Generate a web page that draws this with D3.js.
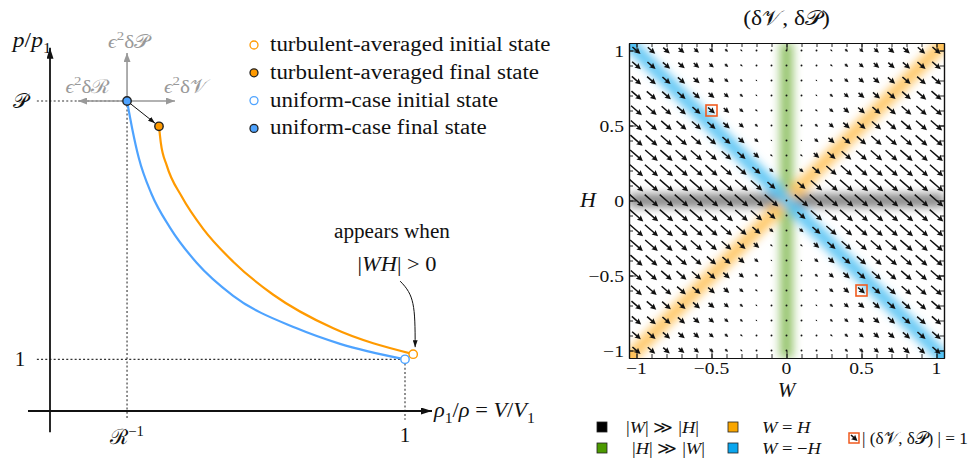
<!DOCTYPE html>
<html>
<head>
<meta charset="utf-8">
<script src="https://cdn.jsdelivr.net/npm/d3@7"></script>
<style>
	body { margin: 0; background: #fff; }
	svg { display: block; font-family: "Liberation Serif", "DejaVu Serif", serif; }
</style>
</head>
<body>
<div id="chart"></div>
<script>
// left panel: p/p1 against rho1/rho
const R_INV = 0.217
const P_LEVEL = 6
const uniformCurve = [[0.217, 6], [0.232, 5.45], [0.25, 4.9], [0.286, 4.2], [0.338, 3.55], [0.413, 2.87], [0.516, 2.23], [0.695, 1.6], [0.817, 1.3], [1, 1]]
const turbulentCurve = [[0.307, 5.51], [0.312, 5.2], [0.329, 4.75], [0.371, 4.15], [0.432, 3.52], [0.516, 2.89], [0.629, 2.25], [0.798, 1.6], [1.023, 1.1]]
const stateNames = ["turbulent-averaged initial state", "turbulent-averaged final state", "uniform-case initial state", "uniform-case final state"]
const stateValues = [[1.023, 1.1], [0.307, 5.51], [1, 1], [0.217, 6]]

// right panel: quiver of (dV, dP) over (W, H)
const gridValues = [-1, -0.9, -0.8, -0.7, -0.6, -0.5, -0.4, -0.3, -0.2, -0.1, 0, 0.1, 0.2, 0.3, 0.4, 0.5, 0.6, 0.7, 0.8, 0.9, 1]
const axisTicks = [-1, -0.5, 0, 0.5, 1]
const fieldDirection = [1, -0.87]
// arrow magnitude read per |H| row (0..1) and |W| column (0..1); field is mirror symmetric
const magnitude = [
	[0, 1, 1, 1, 1, 1, 1, 1, 1, 1, 1],
	[0, 0.6, 0.84, 0.93, 0.96, 0.97, 0.99, 0.99, 0.99, 0.99, 1],
	[0, 0.3, 0.6, 0.76, 0.84, 0.9, 0.93, 0.94, 0.96, 0.97, 0.97],
	[0, 0.18, 0.41, 0.6, 0.72, 0.8, 0.84, 0.88, 0.91, 0.93, 0.94],
	[0, 0.12, 0.3, 0.46, 0.6, 0.69, 0.76, 0.81, 0.84, 0.87, 0.9],
	[0, 0.09, 0.23, 0.36, 0.49, 0.6, 0.68, 0.73, 0.78, 0.81, 0.84],
	[0, 0.06, 0.18, 0.3, 0.41, 0.51, 0.6, 0.66, 0.72, 0.76, 0.8],
	[0, 0.05, 0.14, 0.24, 0.35, 0.44, 0.52, 0.6, 0.65, 0.7, 0.74],
	[0, 0.04, 0.12, 0.21, 0.3, 0.39, 0.46, 0.54, 0.6, 0.65, 0.69],
	[0, 0.04, 0.1, 0.18, 0.26, 0.34, 0.41, 0.48, 0.54, 0.6, 0.64],
	[0, 0.03, 0.09, 0.16, 0.23, 0.3, 0.36, 0.43, 0.49, 0.55, 0.6],
]
const referencePoints = [[-0.5, 0.6], [0.5, -0.6]]
const bandLines = {
	wide: [[-1.05, 0], [1.05, 0]],
	tall: [[0, -1.05], [0, 1.05]],
	equal: [[-1.05, -1.05], [1.05, 1.05]],
	opposite: [[-1.05, 1.05], [1.05, -1.05]],
}

const ORANGE = "#ff9a00"
const BLUE = "#4ea3ff"
const bandColors = { wide: "#7a7a7a", tall: "#8cbf60", equal: "#ffc35c", opposite: "#55c2f3" }
const legendColors = { wide: "#000", tall: "#4c9a00", equal: "#f9a600", opposite: "#0aa6ee" }
const REF_COLOR = "#f05a1e"
// Computer Modern runs wider than the serif we have, so text is stretched a bit
const WIDEN = 1.12

const svg = d3.select("#chart").append("svg").attr("width", 972).attr("height", 458)
const defs = svg.append("defs")

function addMarker(id, color, len, wid) {
	defs.append("marker")
		.attr("id", id)
		.attr("viewBox", `0 0 ${len} ${wid}`)
		.attr("refX", len)
		.attr("refY", wid / 2)
		.attr("markerWidth", len)
		.attr("markerHeight", wid)
		.attr("markerUnits", "userSpaceOnUse")
		.attr("orient", "auto")
		.append("path")
		.attr("d", `M0,0L${len},${wid / 2}L0,${wid}Z`)
		.attr("fill", color)
}
addMarker("head-axis", "#111", 11, 7)
addMarker("head-gray", "#999", 9, 7)
addMarker("head-black", "#111", 7, 5)

function widen(t, k = WIDEN) {
	const w = t.node().getComputedTextLength()
	t.attr("textLength", w * k).attr("lengthAdjust", "spacingAndGlyphs")
	return t
}

// small helper for math-like labels: parts are [text, kind]
function mathText(sel, x, y, parts, size, anchor = "start", color = "#111") {
	const t = sel.append("text")
		.attr("x", x)
		.attr("y", y)
		.attr("font-size", size)
		.attr("fill", color)
		.attr("text-anchor", anchor)
	let shift = 0
	parts.forEach(([s, kind]) => {
		const target = kind === "sub" ? size * 0.28 : kind === "sup" ? -size * 0.4 : 0
		const span = t.append("tspan").text(s).attr("dy", target - shift)
		shift = target
		if (kind === "it") span.attr("font-style", "italic")
		if (kind === "sub" || kind === "sup") span.attr("font-size", size * 0.7)
	})
	return t
}

// ---------- left panel ----------
const xL = d3.scaleLinear().domain([0, 1]).range([50, 405])
const yL = d3.scaleLinear().domain([0, P_LEVEL]).range([411, 101])
const left = svg.append("g")

// dotted guides
const guides = [
	[[-0.037, P_LEVEL], [R_INV, P_LEVEL]],
	[[-0.037, 1], [1, 1]],
	[[R_INV, P_LEVEL], [R_INV, -0.17]],
	[[1, 1], [1, -0.17]],
]
guides.forEach(([a, b]) => {
	left.append("line")
		.attr("x1", xL(a[0])).attr("y1", yL(a[1]))
		.attr("x2", xL(b[0])).attr("y2", yL(b[1]))
		.attr("stroke", "#333")
		.attr("stroke-width", 1.1)
		.attr("stroke-dasharray", "2,2.2")
})

// axes
left.append("line")
	.attr("x1", xL(0)).attr("y1", yL(-0.41))
	.attr("x2", xL(0)).attr("y2", yL(7.03))
	.attr("stroke", "#111").attr("stroke-width", 1.8)
	.attr("marker-end", "url(#head-axis)")
left.append("line")
	.attr("x1", xL(-0.062)).attr("y1", yL(0))
	.attr("x2", xL(1.076)).attr("y2", yL(0))
	.attr("stroke", "#111").attr("stroke-width", 1.8)
	.attr("marker-end", "url(#head-axis)")

// gray perturbation arrows from the uniform final state
const grayArrows = [[R_INV, 6.93], [0.079, P_LEVEL], [0.352, P_LEVEL]]
grayArrows.forEach(([v, p]) => {
	left.append("line")
		.attr("x1", xL(R_INV)).attr("y1", yL(P_LEVEL))
		.attr("x2", xL(v)).attr("y2", yL(p))
		.attr("stroke", "#999").attr("stroke-width", 1.6)
		.attr("marker-end", "url(#head-gray)")
})

// curves
const line = d3.line()
	.x((d) => xL(d[0]))
	.y((d) => yL(d[1]))
	.curve(d3.curveMonotoneX)
left.append("path").datum(uniformCurve)
	.attr("fill", "none").attr("stroke", BLUE).attr("stroke-width", 2.2).attr("d", line)
left.append("path").datum(turbulentCurve)
	.attr("fill", "none").attr("stroke", ORANGE).attr("stroke-width", 2.2).attr("d", line)

// black arrow from uniform final to turbulent final
{
	const a = [xL(stateValues[3][0]), yL(stateValues[3][1])]
	const b = [xL(stateValues[1][0]), yL(stateValues[1][1])]
	const len = Math.hypot(b[0] - a[0], b[1] - a[1])
	const u = [(b[0] - a[0]) / len, (b[1] - a[1]) / len]
	left.append("line")
		.attr("x1", a[0] + u[0] * 4).attr("y1", a[1] + u[1] * 4)
		.attr("x2", b[0] - u[0] * 5).attr("y2", b[1] - u[1] * 5)
		.attr("stroke", "#111").attr("stroke-width", 1)
		.attr("marker-end", "url(#head-black)")
}

// curved annotation arrow
{
	const ex = xL(stateValues[0][0]) + 2
	const ey = yL(stateValues[0][1]) - 7
	const sx = ex - 15
	const sy = ey - 66
	left.append("path")
		.attr("d", `M${sx},${sy}C${sx + 14},${sy + 14} ${ex},${ey - 42} ${ex},${ey}`)
		.attr("fill", "none").attr("stroke", "#111").attr("stroke-width", 1)
		.attr("marker-end", "url(#head-black)")
}

// state markers
const stateStyle = [
	{ stroke: ORANGE, fill: "#fff" },
	{ stroke: "#222", fill: ORANGE },
	{ stroke: BLUE, fill: "#fff" },
	{ stroke: "#222", fill: BLUE },
]
stateValues.forEach(([v, p], i) => {
	left.append("circle")
		.attr("cx", xL(v)).attr("cy", yL(p)).attr("r", 4.2)
		.attr("fill", stateStyle[i].fill)
		.attr("stroke", stateStyle[i].stroke)
		.attr("stroke-width", 1.4)
})

// left labels
widen(mathText(left, 32, 47, [["p", "it"], ["/"], ["p", "it"], ["1", "sub"]], 21, "middle"))
mathText(left, 20, 108, [["𝒫"]], 21, "middle")
mathText(left, 20, 366, [["1"]], 21, "middle")
mathText(left, xL(R_INV), 444, [["ℛ"], ["−1", "sup"]], 21, "middle")
mathText(left, xL(1), 442, [["1"]], 21, "middle")
widen(mathText(left, 434, 417, [["ρ", "it"], ["1", "sub"], ["/"], ["ρ", "it"], [" = "], ["V", "it"], ["/"], ["V", "it"], ["1", "sub"]], 20))
widen(mathText(left, 129, 48, [["ϵ", "it"], ["2", "sup"], ["δ"], ["𝒫"]], 19, "middle", "#999"))
widen(mathText(left, 88, 93, [["ϵ", "it"], ["2", "sup"], ["δ"], ["ℛ"]], 19, "middle", "#999"))
widen(mathText(left, 186, 93, [["ϵ", "it"], ["2", "sup"], ["δ"], ["𝒱"]], 19, "middle", "#999"))
widen(mathText(left, 392, 238, [["appears when"]], 20, "middle"), 1.06)
widen(mathText(left, 397, 271, [["|"], ["WH", "it"], ["| > 0"]], 20, "middle"))

// legend of states
stateNames.forEach((name, i) => {
	const y = 45 + i * 27.8
	left.append("circle")
		.attr("cx", 254).attr("cy", y).attr("r", 4)
		.attr("fill", stateStyle[i].fill)
		.attr("stroke", stateStyle[i].stroke)
		.attr("stroke-width", 1.3)
	const t = left.append("text")
		.attr("x", 270).attr("y", y + 6)
		.attr("font-size", 20.5)
		.attr("fill", "#111")
		.text(name)
	widen(t)
})

// ---------- right panel ----------
const xR = d3.scaleLinear().domain([-1.05, 1.05]).range([629, 944])
const yR = d3.scaleLinear().domain([-1.05, 1.05]).range([358, 43])
const right = svg.append("g")

defs.append("clipPath").attr("id", "clip-field")
	.append("rect")
	.attr("x", xR(-1.05)).attr("y", yR(1.05))
	.attr("width", xR(1.05) - xR(-1.05)).attr("height", yR(-1.05) - yR(1.05))
defs.append("filter").attr("id", "band-blur")
	.attr("filterUnits", "userSpaceOnUse")
	.attr("x", 560).attr("y", 0).attr("width", 420).attr("height", 420)
	.append("feGaussianBlur").attr("stdDeviation", 4.8)

const field = right.append("g").attr("clip-path", "url(#clip-field)")
const bands = field.append("g").attr("filter", "url(#band-blur)")
;["tall", "wide", "equal", "opposite"].forEach((key) => {
	const [a, b] = bandLines[key]
	bands.append("line")
		.attr("x1", xR(a[0])).attr("y1", yR(a[1]))
		.attr("x2", xR(b[0])).attr("y2", yR(b[1]))
		.attr("stroke", bandColors[key])
		.attr("stroke-width", 13)
		.attr("stroke-opacity", 0.92)
})
// flat corner cells where the diagonal bands meet the frame
;[["opposite", -1, 1], ["opposite", 1, -1], ["equal", 1, 1], ["equal", -1, -1]].forEach(([key, w, h]) => {
	const x0 = xR(w), x1 = xR(w * 1.05), y0 = yR(h), y1 = yR(h * 1.05)
	field.append("rect")
		.attr("x", Math.min(x0, x1)).attr("y", Math.min(y0, y1))
		.attr("width", Math.abs(x1 - x0)).attr("height", Math.abs(y1 - y0))
		.attr("fill", bandColors[key])
})

// quiver, pivot at the middle of each arrow
const ARROW_SCALE = 0.12
const dirLen = Math.hypot(fieldDirection[0], fieldDirection[1])
const quiver = field.append("g").attr("fill", "#111")

function drawArrow(g, x0, y0, x1, y1) {
	const L = Math.hypot(x1 - x0, y1 - y0)
	if (L < 2) {
		g.append("circle").attr("cx", (x0 + x1) / 2).attr("cy", (y0 + y1) / 2).attr("r", 0.95)
		return
	}
	const ux = (x1 - x0) / L, uy = (y1 - y0) / L
	const nx = -uy, ny = ux
	let hl = 6, hw = 3, sw = 0.75
	if (L < hl * 1.3) {
		const k = L / (hl * 1.3)
		hl *= k; hw *= k; sw *= k
	}
	const bx = x1 - ux * hl, by = y1 - uy * hl
	const ax = x1 - ux * hl * 0.88, ay = y1 - uy * hl * 0.88
	const pts = [
		[x0 + nx * sw, y0 + ny * sw],
		[ax + nx * sw, ay + ny * sw],
		[bx + nx * hw, by + ny * hw],
		[x1, y1],
		[bx - nx * hw, by - ny * hw],
		[ax - nx * sw, ay - ny * sw],
		[x0 - nx * sw, y0 - ny * sw],
	]
	g.append("path").attr("d", "M" + pts.map((p) => p.join(",")).join("L") + "Z")
}

gridValues.forEach((h) => {
	gridValues.forEach((w) => {
		const m = magnitude[Math.round(Math.abs(h) * 10)][Math.round(Math.abs(w) * 10)]
		const dw = (0.5 * ARROW_SCALE * m * fieldDirection[0]) / dirLen
		const dh = (0.5 * ARROW_SCALE * m * fieldDirection[1]) / dirLen
		drawArrow(quiver, xR(w - dw), yR(h - dh), xR(w + dw), yR(h + dh))
	})
})

// reference boxes
referencePoints.forEach(([w, h]) => {
	right.append("rect")
		.attr("x", xR(w) - 5.5).attr("y", yR(h) - 5.5)
		.attr("width", 11).attr("height", 11)
		.attr("fill", "none")
		.attr("stroke", REF_COLOR)
		.attr("stroke-width", 1.6)
})

// frame with inward ticks on all sides
const frame = [
	[() => d3.axisBottom(xR), `translate(0,${yR(-1.05)})`],
	[() => d3.axisTop(xR), `translate(0,${yR(1.05)})`],
	[() => d3.axisLeft(yR), `translate(${xR(-1.05)},0)`],
	[() => d3.axisRight(yR), `translate(${xR(1.05)},0)`],
]
frame.forEach(([makeAxis, tr]) => {
	right.append("g").attr("transform", tr)
		.call(makeAxis().tickValues(gridValues).tickSizeInner(-4).tickSizeOuter(0).tickFormat(""))
	right.append("g").attr("transform", tr)
		.call(makeAxis().tickValues(axisTicks).tickSizeInner(-7).tickSizeOuter(0).tickFormat(""))
})
right.selectAll(".domain").attr("stroke", "#111").attr("stroke-width", 1.2)
right.selectAll(".tick line").attr("stroke", "#111").attr("stroke-width", 0.9)

// tick labels
const fmt = d3.format("~g")
axisTicks.forEach((v) => {
	widen(right.append("text")
		.attr("x", xR(v)).attr("y", 374)
		.attr("text-anchor", "middle")
		.attr("font-size", 17.5).attr("fill", "#111")
		.text(fmt(v)))
	widen(right.append("text")
		.attr("x", 624).attr("y", yR(v) + 6)
		.attr("text-anchor", "end")
		.attr("font-size", 17.5).attr("fill", "#111")
		.text(fmt(v)))
})
mathText(right, 588, 207, [["H", "it"]], 22, "middle")
mathText(right, xR(0), 397, [["W", "it"]], 21, "middle")
widen(mathText(right, xR(0), 25, [["(δ"], ["𝒱"], [", δ"], ["𝒫"], [")"]], 21, "middle"))

// bottom legend
const legendRows = [
	{ key: "wide", x: 597, y: 427, tx: 626, parts: [["|"], ["W", "it"], ["| ≫ |"], ["H", "it"], ["|"]] },
	{ key: "tall", x: 597, y: 448, tx: 632, parts: [["|"], ["H", "it"], ["| ≫ |"], ["W", "it"], ["|"]] },
	{ key: "equal", x: 728, y: 427, tx: 762, parts: [["W", "it"], [" = "], ["H", "it"]] },
	{ key: "opposite", x: 728, y: 448, tx: 762, parts: [["W", "it"], [" = −"], ["H", "it"]] },
]
legendRows.forEach((r) => {
	right.append("rect")
		.attr("x", r.x).attr("y", r.y - 5)
		.attr("width", 10).attr("height", 10)
		.attr("fill", legendColors[r.key])
		.attr("stroke", "#222").attr("stroke-width", 0.8)
	widen(mathText(right, r.tx, r.y + 5.5, r.parts, 16.5))
})
right.append("rect")
	.attr("x", 849).attr("y", 433)
	.attr("width", 10).attr("height", 10)
	.attr("fill", "#fff").attr("stroke", REF_COLOR).attr("stroke-width", 1.5)
drawArrow(right.append("g").attr("fill", "#111"), 851, 435, 857.5, 441)
{
	const t = mathText(right, 862, 443.5, [["| (δ"], ["𝒱"], [", δ"], ["𝒫"], [") | = 1"]], 16.5)
	const w = t.node().getComputedTextLength()
	t.attr("textLength", Math.min(w * WIDEN, 106)).attr("lengthAdjust", "spacingAndGlyphs")
}
</script>
</body>
</html>
